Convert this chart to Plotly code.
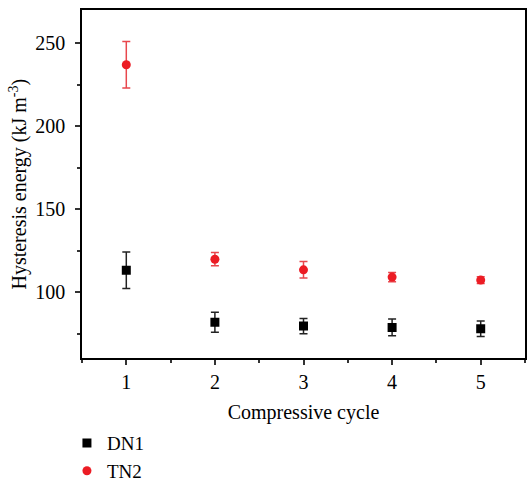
import plotly.graph_objects as go

# Hysteresis energy per compressive cycle (kJ m^-3), mean and error
cycles = [1, 2, 3, 4, 5]
dn1_energy = [113.2, 81.8, 79.5, 78.7, 77.9]
dn1_err = [11.0, 6.0, 4.6, 5.0, 4.7]
tn2_energy = [237.0, 119.8, 113.4, 109.0, 107.2]
tn2_err = [14.0, 4.0, 5.0, 2.8, 2.0]

FONT = "Liberation Serif"
FS = 20
RED = "#ec1c24"

fig = go.Figure()
fig.add_trace(go.Scatter(
    x=cycles, y=dn1_energy, mode="markers", name="DN1",
    marker=dict(symbol="square", size=9, color="black"),
    error_y=dict(type="data", array=dn1_err, visible=True,
                 color="#222222", thickness=1.5, width=4),
))
fig.add_trace(go.Scatter(
    x=cycles, y=tn2_energy, mode="markers", name="TN2",
    marker=dict(symbol="circle", size=9, color=RED),
    error_y=dict(type="data", array=tn2_err, visible=True,
                 color="#e8474d", thickness=1.5, width=4),
))

axis_common = dict(
    showline=True, linecolor="black", linewidth=1.5, mirror=True,
    ticks="outside", ticklen=5, tickwidth=1.5, tickcolor="#333333",
    showgrid=False, zeroline=False, automargin=True,
    tickfont=dict(family=FONT, size=FS, color="black"),
)

fig.update_layout(
    width=528, height=482,
    margin=dict(l=82, r=1, t=10, b=111),
    paper_bgcolor="white", plot_bgcolor="white",
    font=dict(family=FONT, size=FS, color="black"),
    showlegend=True,
    legend=dict(x=-0.034, y=0.12, yref="container",
                xanchor="left", yanchor="top",
                orientation="v", font=dict(family=FONT, size=19),
                bgcolor="rgba(0,0,0,0)", tracegroupgap=0),
    xaxis=dict(
        range=[0.5, 5.5], tickmode="array", tickvals=cycles,
        title=dict(text="Compressive cycle", standoff=16,
                   font=dict(family=FONT, size=FS)),
        minor=dict(ticks="outside", ticklen=3, tickwidth=1.5,
                   tickcolor="#333333", dtick=0.5, tick0=0.5),
        **axis_common,
    ),
    yaxis=dict(
        range=[60, 270], tickmode="array", tickvals=[100, 150, 200, 250],
        ticklabelstandoff=6,
        title=dict(text="Hysteresis energy (kJ m<sup>-3</sup>)", standoff=3,
                   font=dict(family=FONT, size=FS)),
        minor=dict(ticks="outside", ticklen=3, tickwidth=1.5,
                   tickcolor="#333333", dtick=25, tick0=75),
        **axis_common,
    ),
)

fig.write_html("out.html")
